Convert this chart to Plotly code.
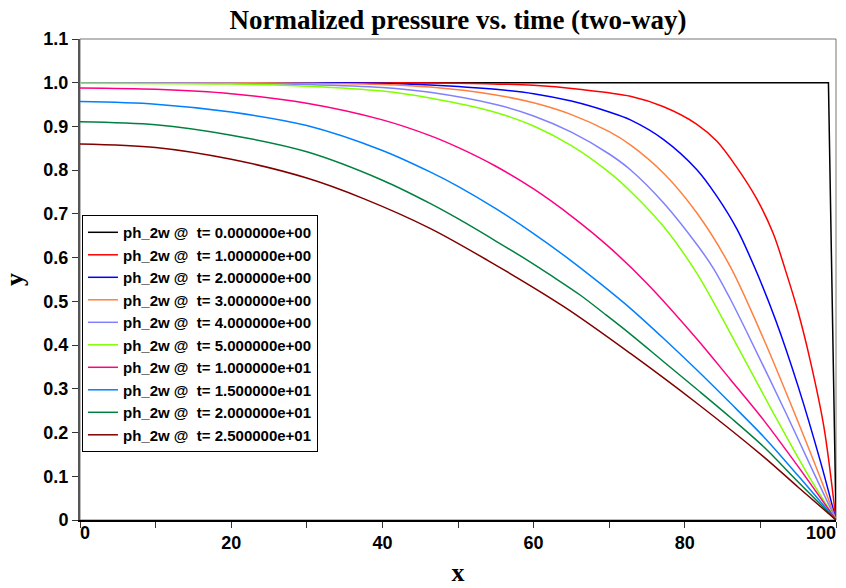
import plotly.graph_objects as go

# ---------------- data ----------------
times = ["0.000000e+00", "1.000000e+00", "2.000000e+00", "3.000000e+00", "4.000000e+00",
         "5.000000e+00", "1.000000e+01", "1.500000e+01", "2.000000e+01", "2.500000e+01"]
colors = ["#000000", "#FF0000", "#0000FF", "#FF8040", "#8080FF",
          "#80FF00", "#FF0080", "#0080FF", "#008040", "#800000"]

x_t0 = [0, 99, 100]
y_t0 = [1.0, 1.0, 0.0]

x_t1 = [0, 40, 50, 60, 66, 72.8, 77.2, 81.6, 84.25, 86.9, 89.5, 91.7, 93.3, 95, 96.6, 98.4, 100]
y_t1 = [1.0, 1.0, 0.999, 0.994, 0.985, 0.969, 0.945, 0.905, 0.866, 0.806, 0.735, 0.655, 0.572, 0.475, 0.364, 0.213, 0.0]

x_t2 = [0, 30, 40, 46.3, 55, 60, 65, 70, 72.8, 77.2, 81.6, 84.25, 86.9, 89.3, 92, 95, 98, 100]
y_t2 = [1.0, 1.0, 0.999, 0.995, 0.985, 0.975, 0.958, 0.933, 0.915, 0.870, 0.801, 0.740, 0.665, 0.575, 0.458, 0.305, 0.130, 0.0]

x_t3 = [0, 20, 30, 40, 46.3, 55, 60, 65, 70, 72.8, 77.2, 81.6, 86, 90.4, 94.8, 98.4, 100]
y_t3 = [1.0, 1.0, 0.999, 0.996, 0.990, 0.972, 0.954, 0.927, 0.888, 0.858, 0.793, 0.702, 0.580, 0.415, 0.232, 0.075, 0.0]

x_t4 = [0, 20, 30, 40, 46.3, 55, 60, 65, 70, 72.8, 77.2, 81.6, 83.8, 86, 88.2, 93.5, 97, 100]
y_t4 = [1.0, 0.999, 0.996, 0.989, 0.978, 0.950, 0.924, 0.887, 0.837, 0.801, 0.725, 0.630, 0.575, 0.506, 0.430, 0.240, 0.110, 0.0]

x_t5 = [0, 20, 30, 40, 46.3, 55, 60, 65, 70, 72.8, 77.2, 81.6, 86, 91.7, 96, 100]
y_t5 = [0.999, 0.997, 0.992, 0.981, 0.965, 0.932, 0.901, 0.856, 0.795, 0.752, 0.671, 0.564, 0.428, 0.245, 0.112, 0.0]

x_t10 = [0, 10, 20, 30, 40, 46.3, 50, 55, 60, 65, 70, 75, 81.6, 86, 90.4, 95, 100]
y_t10 = [0.988, 0.985, 0.975, 0.953, 0.915, 0.879, 0.852, 0.809, 0.757, 0.695, 0.624, 0.541, 0.414, 0.322, 0.229, 0.122, 0.0]

x_t15 = [0, 10, 20, 30, 40, 46.3, 50, 55, 60, 64.8, 68.8, 72.8, 77.2, 81.6, 86, 90.4, 95, 100]
y_t15 = [0.957, 0.951, 0.933, 0.902, 0.845, 0.796, 0.763, 0.712, 0.655, 0.595, 0.541, 0.484, 0.415, 0.343, 0.268, 0.191, 0.101, 0.0]

x_t20 = [0, 10, 20, 30, 40, 46.3, 50, 55, 59.1, 62.5, 66.2, 69.5, 72.8, 77.2, 81.6, 86, 90.4, 95, 100]
y_t20 = [0.911, 0.904, 0.880, 0.842, 0.777, 0.724, 0.689, 0.638, 0.595, 0.557, 0.514, 0.470, 0.425, 0.362, 0.299, 0.235, 0.168, 0.087, 0.0]

x_t25 = [0, 10, 20, 30, 37.5, 46.3, 53.8, 64.0, 72.8, 81.6, 90.4, 95, 100]
y_t25 = [0.860, 0.852, 0.825, 0.782, 0.735, 0.667, 0.595, 0.488, 0.381, 0.267, 0.145, 0.075, 0.0]

x_ticks = [0, 10, 20, 30, 40, 50, 60, 70, 80, 90, 100]
x_ticklabels = ["0", "", "20", "", "40", "", "60", "", "80", "", "100"]
y_ticks = [0, 0.1, 0.2, 0.3, 0.4, 0.5, 0.6, 0.7, 0.8, 0.9, 1.0, 1.1]
y_ticklabels = ["0", "0.1", "0.2", "0.3", "0.4", "0.5", "0.6", "0.7", "0.8", "0.9", "1.0", "1.1"]

xs = [x_t0, x_t1, x_t2, x_t3, x_t4, x_t5, x_t10, x_t15, x_t20, x_t25]
ys = [y_t0, y_t1, y_t2, y_t3, y_t4, y_t5, y_t10, y_t15, y_t20, y_t25]

# inner labels centred on their ticks; the two end labels are drawn by overlay axes
# so that they sit inside the axis span, as in the reference
inner_text = [t if 0 < i < len(x_ticks) - 1 else "" for i, t in enumerate(x_ticklabels)]

# ---------------- figure ----------------
fig = go.Figure()
for i, (xv, yv) in enumerate(zip(xs, ys)):
    fig.add_trace(go.Scatter(
        x=xv, y=yv, mode="lines",
        name="ph_2w @\u00a0 t= " + times[i],
        line=dict(color=colors[i], width=1.5,
                  shape="linear" if i == 0 else "spline",
                  smoothing=0.9),
    ))
# empty helper traces so the overlay axes are drawn
fig.add_trace(go.Scatter(x=[], y=[], xaxis="x2", showlegend=False, hoverinfo="skip"))
fig.add_trace(go.Scatter(x=[], y=[], xaxis="x3", showlegend=False, hoverinfo="skip"))

sans = "Liberation Sans, Arial, Helvetica, sans-serif"
serif = "Liberation Serif, Times New Roman, serif"
tick_font = dict(family=sans, size=18, color="black", weight="bold")

W, H = 846, 588
fig.update_layout(
    width=W, height=H,
    margin=dict(l=80, r=10, t=39, b=68, autoexpand=False),
    paper_bgcolor="white", plot_bgcolor="white",
    title=dict(text="Normalized pressure vs. time (two-way)",
               font=dict(family=serif, size=27, color="black", weight="bold"),
               x=0.5, xref="paper", xanchor="center",
               y=1 - 20 / H, yref="container", yanchor="middle"),
    showlegend=True,
    legend=dict(x=0.0026, y=0.634, xanchor="left", yanchor="top",
                bgcolor="white", bordercolor="black", borderwidth=1,
                font=dict(family=sans, size=15, color="black", weight="bold"),
                itemwidth=30, tracegroupgap=0),
    font=dict(family=sans, color="black"),
    xaxis2=dict(overlaying="x", anchor="y", side="bottom", matches="x",
                tickmode="array", tickvals=[x_ticks[-1]], ticktext=[x_ticklabels[-1]],
                ticklabelposition="outside left", ticks="", ticklen=6,
                tickfont=tick_font, showline=False, showgrid=False, zeroline=False,
                automargin=False),
    xaxis3=dict(overlaying="x", anchor="y", side="bottom", matches="x",
                tickmode="array", tickvals=[x_ticks[0]], ticktext=[x_ticklabels[0]],
                ticklabelposition="outside right", ticks="", ticklen=6,
                tickfont=tick_font, showline=False, showgrid=False, zeroline=False,
                automargin=False),
)

fig.layout.xaxis.update(
    range=[0, 100], tickmode="array", tickvals=x_ticks, ticktext=inner_text,
    ticks="outside", ticklen=6, tickwidth=1, tickcolor="#333",
    tickfont=tick_font,
    ticklabeloverflow="allow", automargin=False,
    showline=True, linecolor="black", linewidth=1.5, mirror=False,
    showgrid=False, zeroline=False,
    title=dict(text="x", font=dict(family=serif, size=26, color="black", weight="bold"),
               standoff=10),
)
fig.update_yaxes(
    range=[0, 1.1], tickmode="array", tickvals=y_ticks, ticktext=y_ticklabels,
    ticks="outside", ticklen=6, tickwidth=1, tickcolor="#333",
    tickfont=tick_font,
    ticklabeloverflow="allow", automargin=False,
    showline=True, linecolor="#555", linewidth=2, mirror=False,
    showgrid=False, zeroline=False,
    title=dict(text="y", font=dict(family=serif, size=26, color="black", weight="bold"),
               standoff=14),
)

# plot-area frame (top and right edges)
fig.add_shape(type="rect", xref="paper", yref="paper", x0=0, y0=0, x1=1, y1=1,
              line=dict(color="#777", width=1), layer="below")

# remove the page's default 8px body margin so the 846x588 figure fills the window
fig.write_html("out.html",
               config={"displayModeBar": False},
               post_script="document.body.style.margin='0px';document.body.style.overflow='hidden';")
